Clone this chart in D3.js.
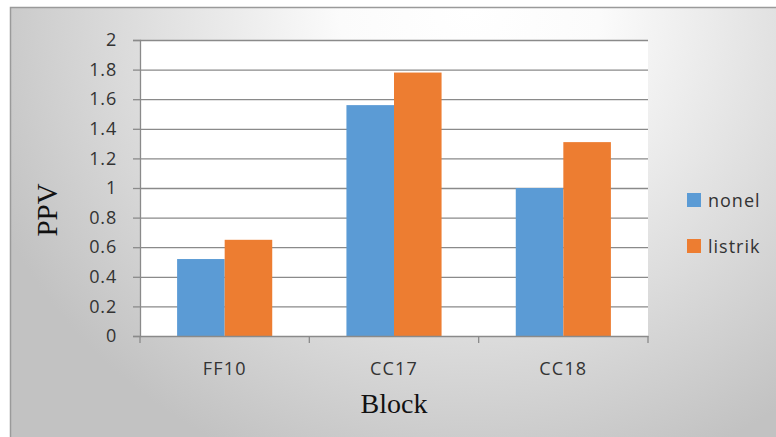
<!DOCTYPE html>
<html><head><meta charset="utf-8">
<script src="https://cdn.jsdelivr.net/npm/d3@7"></script>
<style>body{margin:0;background:#fff}svg{display:block}</style>
</head><body>
<script>
const categories = ["FF10", "CC17", "CC18"];
const seriesNames = ["nonel", "listrik"];
const nonel = [0.52, 1.56, 1.0];
const listrik = [0.65, 1.78, 1.31];
const yTicks = [0, 0.2, 0.4, 0.6, 0.8, 1, 1.2, 1.4, 1.6, 1.8, 2];
const colors = ["#5B9BD5", "#ED7D31"];

const W = 776, H = 437;
const svg = d3.select("body").append("svg").attr("width", W).attr("height", H);
const defs = svg.append("defs");
const grad = defs.append("radialGradient").attr("id","bg")
  .attr("gradientUnits","userSpaceOnUse").attr("cx",470).attr("cy",10).attr("r",520)
  .attr("gradientTransform","translate(470,10) scale(1,0.95) translate(-470,-10)");
grad.append("stop").attr("offset","0").attr("stop-color","#ffffff");
grad.append("stop").attr("offset","0.25").attr("stop-color","#fbfbfb");
grad.append("stop").attr("offset","1").attr("stop-color","#c2c2c2");

svg.append("rect").attr("x",10.5).attr("y",7.5).attr("width",W).attr("height",H)
  .attr("fill","url(#bg)").attr("stroke","#9a9a9a").attr("stroke-width",1.5);

const m = {left:140, right:648, top:40, bottom:336};
const x0 = d3.scaleBand().domain(categories).range([m.left, m.right]);
const x1 = d3.scaleBand().domain(seriesNames).range([0, x0.bandwidth()]).paddingOuter(0.78);
const y = d3.scaleLinear().domain([0, 2]).range([m.bottom, m.top]);

svg.append("rect").attr("x",m.left).attr("y",m.top).attr("width",m.right-m.left)
  .attr("height",m.bottom-m.top).attr("fill","#fff");

const tickFont = sel => sel.attr("fill","#333").style("font-family","'Open Sans'")
  .style("font-size","18px").style("letter-spacing","0.8px");

// gridlines + y axis
const yAxis = d3.axisLeft(y).tickValues(yTicks).tickFormat(d3.format("")).tickSize(7).tickPadding(16);
const gy = svg.append("g").attr("transform",`translate(${m.left},0)`).call(yAxis);
gy.select(".domain").attr("stroke","#8a8a8a").attr("stroke-width",1.3);
gy.selectAll(".tick line").attr("stroke","#8a8a8a").attr("stroke-width",1.3);
gy.selectAll(".tick text").call(tickFont);

const grid = d3.axisLeft(y).tickValues(yTicks.slice(1)).tickSize(-(m.right-m.left)).tickFormat("");
const gg = svg.append("g").attr("transform",`translate(${m.left},0)`).call(grid);
gg.select(".domain").remove();
gg.selectAll(".tick line").attr("stroke","#8a8a8a").attr("stroke-width",1.3);

// bars
const data = categories.map((c,i)=>({cat:c, vals:[nonel[i], listrik[i]]}));
const groups = svg.append("g").selectAll("g").data(data).join("g")
  .attr("transform", d=>`translate(${x0(d.cat)},0)`);
groups.selectAll("rect").data(d=>d.vals.map((v,j)=>({s:seriesNames[j], v, j})))
  .join("rect")
  .attr("x", d=>x1(d.s)).attr("width", x1.bandwidth())
  .attr("y", d=>y(d.v)).attr("height", d=>y(0)-y(d.v))
  .attr("fill", d=>colors[d.j]);

// x axis
const gx = svg.append("g").attr("transform",`translate(0,${m.bottom})`)
  .call(d3.axisBottom(x0).tickSize(0).tickPadding(26));
gx.select(".domain").attr("stroke","#8a8a8a").attr("stroke-width",1.3);
gx.selectAll(".tick text").call(tickFont).style("letter-spacing","1.2px");
const bounds = categories.map(c=>x0(c)).concat([x0(categories[categories.length-1])+x0.bandwidth()]);
gx.selectAll(".bt").data(bounds).join("line").attr("class","bt")
  .attr("x1",d=>d).attr("x2",d=>d).attr("y1",0).attr("y2",7)
  .attr("stroke","#8a8a8a").attr("stroke-width",1.3);

// axis titles
svg.append("text").attr("x",(m.left+m.right)/2).attr("y",413).attr("text-anchor","middle")
  .style("font-family","'Liberation Serif'").style("font-size","28px").attr("fill","#111").text("Block");
svg.append("text").attr("transform","translate(57,210) rotate(-90)").attr("text-anchor","middle")
  .style("font-family","'Liberation Serif'").style("font-size","29px").attr("fill","#111").text("PPV");

// legend
const lg = svg.append("g").selectAll("g").data(seriesNames).join("g")
  .attr("transform",(d,i)=>`translate(687,${193 + i*46})`);
lg.append("rect").attr("width",14).attr("height",14).attr("fill",(d,i)=>colors[i]);
lg.append("text").attr("x",21).attr("y",14).call(tickFont).style("letter-spacing","1px").text(d=>d);
</script>
</body></html>
